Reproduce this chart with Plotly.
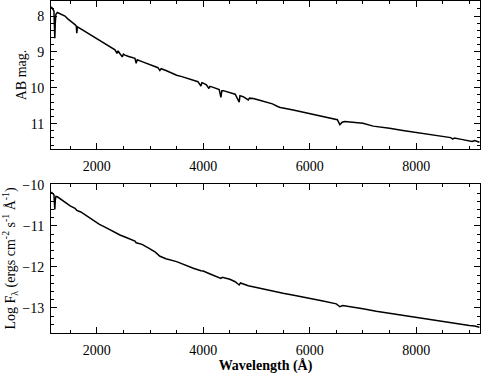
import plotly.graph_objects as go
from plotly.subplots import make_subplots

# Top panel: AB magnitude spectrum
wave_ab = [1145, 1170, 1195, 1205, 1212, 1220, 1232, 1260, 1300, 1350, 1403, 1450, 1500, 1550,
           1591, 1615, 1625, 1635, 1700, 1779, 1850, 1900, 1966, 2050, 2154, 2250, 2342, 2380,
           2400, 2436, 2480, 2500, 2530, 2600, 2717, 2740, 2760, 2850, 2950, 3061, 3150, 3185,
           3210, 3300, 3380, 3500, 3600, 3690, 3813, 3900, 3957, 3975, 4000, 4060, 4107, 4125,
           4188, 4300, 4332, 4350, 4376, 4500, 4600, 4676, 4690, 4750, 4846, 4870, 4940, 5060,
           5190, 5300, 5408, 5450, 5690, 5850, 6000, 6150, 6317, 6450, 6520, 6567, 6610, 6661,
           6800, 7000, 7193, 7250, 7500, 7750, 8000, 8250, 8500, 8650, 8690, 8720, 8850, 9000,
           9050, 9100, 9190]
ab_mag = [7.74, 7.80, 7.86, 8.30, 8.62, 8.20, 7.95, 7.90, 7.93, 7.97, 8.00, 8.07, 8.12, 8.19,
          8.24, 8.28, 8.48, 8.30, 8.36, 8.43, 8.49, 8.54, 8.60, 8.67, 8.76, 8.86, 8.94, 9.04,
          8.97, 9.05, 9.14, 9.06, 9.09, 9.13, 9.18, 9.32, 9.22, 9.27, 9.33, 9.39, 9.44, 9.52,
          9.47, 9.52, 9.58, 9.65, 9.69, 9.73, 9.79, 9.83, 9.95, 9.86, 9.87, 9.92, 10.02, 9.96,
          9.99, 10.05, 10.27, 10.08, 10.08, 10.13, 10.18, 10.40, 10.22, 10.25, 10.34, 10.29, 10.30, 10.35,
          10.41, 10.45, 10.53, 10.55, 10.62, 10.67, 10.73, 10.77, 10.82, 10.86, 10.89, 11.03, 10.96, 10.94,
          10.96, 10.99, 11.07, 11.08, 11.13, 11.19, 11.24, 11.30, 11.35, 11.39, 11.43, 11.40, 11.44, 11.47,
          11.50, 11.47, 11.52]

# Bottom panel: log F_lambda spectrum
wave_flux = [1145, 1170, 1195, 1205, 1212, 1220, 1232, 1260, 1300, 1350, 1403, 1450, 1500, 1591,
             1625, 1700, 1779, 1850, 1966, 2050, 2154, 2250, 2342, 2436, 2530, 2600, 2717, 2740,
             2850, 3000, 3100, 3187, 3300, 3500, 3650, 3813, 3957, 4000, 4107, 4200, 4332, 4360,
             4500, 4600, 4676, 4700, 4846, 5000, 5200, 5500, 5750, 6000, 6250, 6500, 6567, 6620,
             6800, 7000, 7250, 7500, 7750, 8000, 8250, 8500, 8750, 9000, 9100, 9190]
log_flux = [-10.17, -10.20, -10.24, -10.45, -10.60, -10.38, -10.28, -10.29, -10.33, -10.38, -10.41, -10.47, -10.51, -10.57,
            -10.62, -10.66, -10.73, -10.80, -10.90, -10.96, -11.03, -11.10, -11.17, -11.22, -11.27, -11.31, -11.37, -11.41,
            -11.45, -11.56, -11.64, -11.74, -11.80, -11.87, -11.95, -12.03, -12.09, -12.10, -12.16, -12.21, -12.28, -12.25,
            -12.30, -12.36, -12.44, -12.39, -12.46, -12.50, -12.56, -12.64, -12.70, -12.76, -12.83, -12.90, -12.97, -12.94,
            -12.97, -13.02, -13.08, -13.13, -13.19, -13.24, -13.29, -13.33, -13.38, -13.43, -13.44, -13.47]

x_ticks = [2000, 4000, 6000, 8000]
x_labels = ["2000", "4000", "6000", "8000"]
ab_ticks = [8, 9, 10, 11]
flux_ticks = [-10, -11, -12, -13]

fig = make_subplots(rows=2, cols=1, vertical_spacing=0.105)

fig.add_trace(go.Scatter(x=wave_ab, y=ab_mag, mode="lines",
                         line=dict(color="black", width=1.5), showlegend=False), row=1, col=1)
fig.add_trace(go.Scatter(x=wave_flux, y=log_flux, mode="lines",
                         line=dict(color="black", width=1.5), showlegend=False), row=2, col=1)

font = dict(family="Liberation Serif, Times New Roman, serif", size=14, color="black")

common_axis = dict(showline=True, linecolor="black", linewidth=1, mirror="ticks",
                   ticks="inside", ticklen=6, tickwidth=1, tickcolor="black",
                   showgrid=False, zeroline=False, tickfont=font, automargin=False)

fig.update_xaxes(range=[1140, 9200], tickvals=x_ticks, ticktext=x_labels,
                 minor=dict(dtick=500, tick0=0, ticks="inside", ticklen=3, tickcolor="black"),
                 ticklabelstandoff=4, **common_axis)
fig.update_xaxes(title=dict(text="<b>Wavelength (Å)</b>", font=font, standoff=2), row=2, col=1)

fig.update_yaxes(range=[11.71, 7.58], tickvals=ab_ticks,
                 minor=dict(dtick=0.2, tick0=0, ticks="inside", ticklen=3, tickcolor="black"),
                 title=dict(text="AB mag.", font=font, standoff=0),
                 ticklabelstandoff=3, row=1, col=1, **common_axis)
fig.update_yaxes(range=[-13.61, -9.976], tickvals=flux_ticks,
                 minor=dict(dtick=0.2, tick0=0, ticks="inside", ticklen=3, tickcolor="black"),
                 title=dict(text="Log F<sub>λ</sub> (ergs cm<sup>-2</sup> s<sup>-1</sup> Å<sup>-1</sup>)",
                            font=font, standoff=9),
                 ticklabelstandoff=3, row=2, col=1, **common_axis)

fig.update_layout(width=481, height=374, margin=dict(l=51, r=1, t=1, b=41),
                  paper_bgcolor="white", plot_bgcolor="white", font=font)
fig.layout.yaxis.domain = [0.554, 1.0]
fig.layout.yaxis2.domain = [0.0, 0.449]

fig.write_html("out.html", config={"displayModeBar": False},
               post_script="document.body.style.margin='0';")
